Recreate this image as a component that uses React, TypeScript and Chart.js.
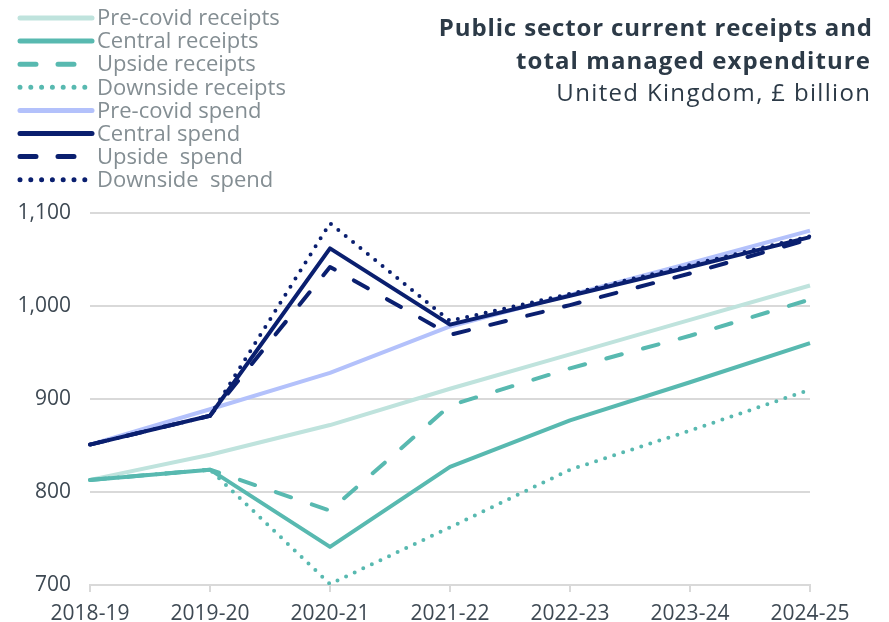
import React, { useEffect, useRef } from "react";
import { Chart, registerables } from "chart.js";

Chart.register(...registerables);

const categories = ["2018-19", "2019-20", "2020-21", "2021-22", "2022-23", "2023-24", "2024-25"];
const preCovidReceipts = [813, 840, 872, 911, 948, 985, 1022];
const centralReceipts = [813, 824, 741, 827, 877, 918, 960];
const upsideReceipts = [813, 824, 780, 893, 933, 968, 1007];
const downsideReceipts = [813, 824, 701, 762, 824, 866, 910];
const preCovidSpend = [851, 889, 928, 978, 1012, 1046, 1081];
const centralSpend = [851, 882, 1062, 980, 1011, 1042, 1074];
const upsideSpend = [851, 882, 1042, 969, 1001, 1035, 1072];
const downsideSpend = [851, 882, 1089, 984, 1013, 1044, 1075];
const yTicks = [700, 800, 900, 1000, 1100];

const titleLines = ["Public sector current receipts and", "total managed expenditure"];
const subtitleLine = "United Kingdom, £ billion";

const FONT = "'Open Sans', 'Liberation Sans', sans-serif";
const LIGHT_TEAL = "#bfe3dd";
const TEAL = "#58b9b0";
const LIGHT_BLUE = "#b3c1fb";
const NAVY = "#0a1f6f";
const DASH = [16, 22];
const DOT = [0, 9.5];

function fitText(ctx: any, text: string, right: number, y: number, targetWidth: number) {
  ctx.letterSpacing = "0px";
  const w = ctx.measureText(text).width;
  const extra = (targetWidth - w) / text.length;
  ctx.letterSpacing = `${extra}px`;
  ctx.fillText(text, right + extra, y);
  ctx.letterSpacing = "0px";
}

const overlayPlugin = {
  id: "overlay",
  afterDraw(chart: any) {
    const ctx = chart.ctx;
    ctx.save();
    const ds = chart.data.datasets;
    ds.forEach((d: any, i: number) => {
      const y = 18 + i * 23.1;
      ctx.beginPath();
      ctx.strokeStyle = d.borderColor;
      ctx.lineWidth = 5;
      ctx.lineCap = "round";
      ctx.setLineDash(d.legendDash || []);
      ctx.moveTo(20, y);
      ctx.lineTo(d.legendEnd || 92, y);
      ctx.stroke();
      ctx.setLineDash([]);
      ctx.fillStyle = "#848e93";
      ctx.font = `22px ${FONT}`;
      ctx.textAlign = "left";
      ctx.textBaseline = "middle";
      ctx.fillText(d.label, 97, y + 1);
    });
    ctx.textAlign = "right";
    ctx.textBaseline = "alphabetic";
    ctx.fillStyle = "#2c3a47";
    ctx.font = `bold 24px ${FONT}`;
    fitText(ctx, titleLines[0], 872, 36, 434);
    fitText(ctx, titleLines[1], 870, 69, 355);
    ctx.font = `24px ${FONT}`;
    fitText(ctx, subtitleLine, 870, 101, 315);
    ctx.restore();
  },
};

function line(label: string, data: number[], color: string, order: number, dash: number[], legendDash: number[], width = 4) {
  return {
    label,
    data,
    borderColor: color,
    backgroundColor: color,
    borderWidth: width,
    borderDash: dash,
    borderCapStyle: dash.length ? "round" : "butt",
    borderJoinStyle: "round",
    legendDash,
    pointRadius: 0,
    pointHoverRadius: 0,
    tension: 0,
    fill: false,
    order,
  };
}

export default function App() {
  const ref = useRef<HTMLCanvasElement>(null);
  useEffect(() => {
    if (!ref.current) return;
    const chart = new Chart(ref.current, {
      type: "line",
      data: {
        labels: categories,
        datasets: [
          line("Pre-covid receipts", preCovidReceipts, LIGHT_TEAL, 10, [], []),
          line("Central receipts", centralReceipts, TEAL, 4, [], []),
          line("Upside receipts", upsideReceipts, TEAL, 5, DASH, [16, 22]),
          { ...line("Downside receipts", downsideReceipts, TEAL, 6, DOT, [0, 10.8]), legendEnd: 88 } as any,
          line("Pre-covid spend", preCovidSpend, LIGHT_BLUE, 9, [], []),
          line("Central spend", centralSpend, NAVY, 1, [], []),
          line("Upside  spend", upsideSpend, NAVY, 2, DASH, [16, 22]),
          { ...line("Downside  spend", downsideSpend, NAVY, 3, DOT, [0, 10.8]), legendEnd: 88 } as any,
        ],
      },
      options: {
        animation: false,
        responsive: false,
        maintainAspectRatio: false,
        layout: { padding: { top: 213, right: 79, left: 0, bottom: 0 } },
        plugins: {
          legend: { display: false },
          title: { display: false },
          tooltip: { enabled: false },
        },
        scales: {
          x: {
            type: "category",
            offset: false,
            grid: {
              display: true,
              drawOnChartArea: false,
              drawTicks: true,
              tickLength: 7,
              color: "#d9d9d9",
              lineWidth: 2,
            },
            border: { display: true, color: "#d9d9d9", width: 2 },
            ticks: {
              color: "#3e4953",
              font: { family: FONT, size: 21 },
              padding: 9,
              maxRotation: 0,
              autoSkip: false,
            },
            afterFit(scale: any) {
              scale.height = 37;
            },
          },
          y: {
            min: 700,
            max: 1100,
            afterBuildTicks(scale: any) {
              scale.ticks = yTicks.map((v) => ({ value: v }));
            },
            grid: { color: "#d9d9d9", lineWidth: 2, drawTicks: false },
            border: { display: false },
            ticks: {
              color: "#3e4953",
              font: { family: FONT, size: 21 },
              padding: 19,
              callback: (v: any) => Number(v).toLocaleString("en-US"),
            },
            afterFit(scale: any) {
              scale.width = 90;
            },
          },
        },
      },
      plugins: [overlayPlugin],
    } as any);
    return () => chart.destroy();
  }, []);
  return (
    <div style={{ position: "absolute", left: 0, top: 0, width: 889, height: 622, background: "#fff" }}>
      <canvas ref={ref} width={889} height={622} style={{ display: "block" }} />
    </div>
  );
}
